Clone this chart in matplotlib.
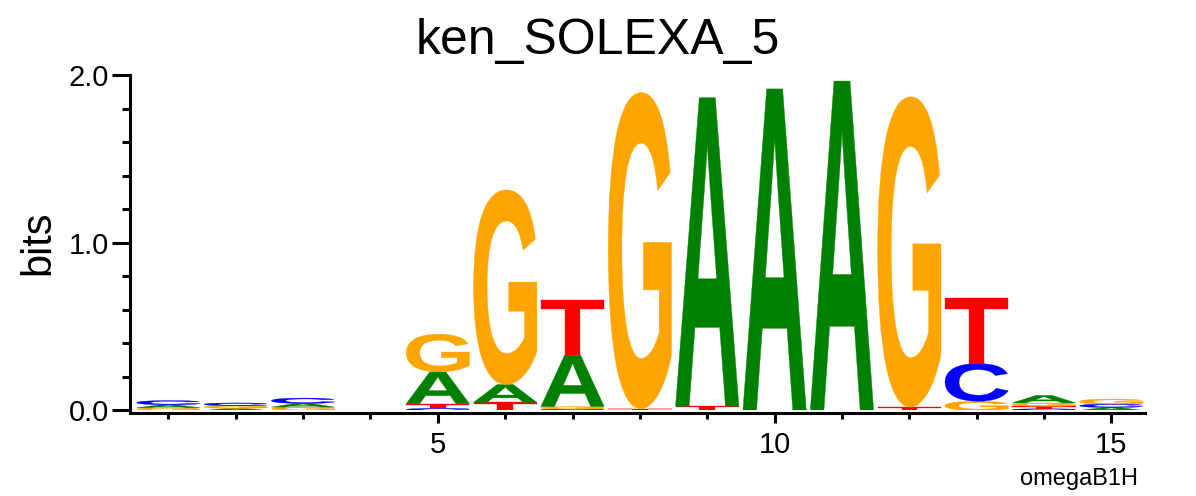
import matplotlib
matplotlib.use("Agg")
import matplotlib.pyplot as plt
from matplotlib.textpath import TextPath
from matplotlib.patches import PathPatch
from matplotlib.font_manager import FontProperties
from matplotlib.transforms import Affine2D
from matplotlib.ticker import MultipleLocator, FixedLocator, FormatStrFormatter

# information content (bits) per base, positions 1..15
positions = list(range(1, 16))
bits_A = [0.018, 0.013, 0.022, 0.0, 0.190, 0.107, 0.307, 0.0, 1.840, 1.917, 1.964, 0.0, 0.0, 0.045, 0.018]
bits_C = [0.025, 0.017, 0.032, 0.0, 0.012, 0.0, 0.008, 0.0, 0.0, 0.0, 0.0, 0.0, 0.225, 0.010, 0.020]
bits_G = [0.016, 0.015, 0.020, 0.0, 0.225, 1.160, 0.015, 1.885, 0.0, 0.0, 0.0, 1.850, 0.055, 0.020, 0.030]
bits_T = [0.0, 0.0, 0.0, 0.0, 0.028, 0.048, 0.330, 0.010, 0.025, 0.0, 0.0, 0.020, 0.390, 0.015, 0.0]

colors = {'A': '#008000', 'C': '#0000ff', 'G': '#ffa500', 'T': '#ff0000'}

plt.rcParams['font.family'] = ['Liberation Sans', 'DejaVu Sans']
glyph_font = FontProperties(family='Liberation Sans', weight='bold')


def draw_letter(ax, ch, x, y, w, h, color):
    tp = TextPath((0, 0), ch, size=1, prop=glyph_font)
    ext = tp.get_extents()
    t = Affine2D().translate(-ext.x0, -ext.y0).scale(w / ext.width, h / ext.height).translate(x - w / 2, y)
    ax.add_patch(PathPatch(t.transform_path(tp), fc=color, ec=color, lw=0.25))


fig = plt.figure(figsize=(11.96, 4.96), dpi=100)
ax = fig.add_axes([0.1087, 0.1724, 0.9574 - 0.1087, 0.8488 - 0.1724])

for i, pos in enumerate(positions):
    stack = [('A', bits_A[i]), ('C', bits_C[i]), ('G', bits_G[i]), ('T', bits_T[i])]
    stack = sorted([s for s in stack if s[1] > 0], key=lambda s: s[1])
    y0 = 0.0
    for ch, h in stack:
        draw_letter(ax, ch, pos, y0, 0.94, h, colors[ch])
        y0 += h

ax.set_xlim(0.43, 15.5)
ax.set_ylim(0, 2.0)

for s in ['top', 'right']:
    ax.spines[s].set_visible(False)
for s in ['left', 'bottom']:
    ax.spines[s].set_linewidth(2.2)
ax.spines['bottom'].set_position(('outward', 1.5))

ax.xaxis.set_major_locator(FixedLocator([5, 10, 15]))
ax.xaxis.set_minor_locator(MultipleLocator(1))
ax.yaxis.set_major_locator(FixedLocator([0, 1, 2]))
ax.yaxis.set_minor_locator(MultipleLocator(0.2))
ax.yaxis.set_major_formatter(FormatStrFormatter('%.1f'))

ax.tick_params(axis='x', which='major', length=7.5, width=2.2, pad=6, labelsize=21)
ax.tick_params(axis='x', which='minor', length=4.5, width=2.2)
ax.tick_params(axis='y', which='major', length=13, width=2.2, pad=2, labelsize=21)
ax.tick_params(axis='y', which='minor', length=6, width=2.2)

fig.text(0.5, 1 - 54 / 496, 'ken_SOLEXA_5', ha='center', va='baseline', fontsize=36)
fig.text(38 / 1196, 1 - 243 / 496, 'bits', rotation=90, ha='center', va='center', fontsize=30)
fig.text(1138 / 1196, 1 - 485 / 496, 'omegaB1H', ha='right', va='baseline', fontsize=17)

fig.savefig('out.png', dpi=100)
